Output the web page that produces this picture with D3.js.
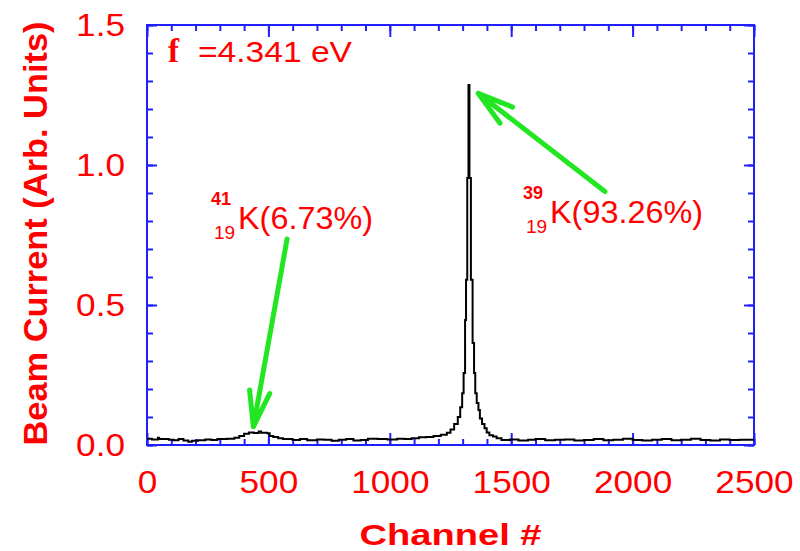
<!DOCTYPE html>
<html>
<head>
<meta charset="utf-8">
<script src="https://cdn.jsdelivr.net/npm/d3@7"></script>
<style>
  body { margin: 0; background: #fff; }
  text { font-family: "Liberation Sans", Arial, sans-serif; }
</style>
</head>
<body>
<script>
/* spectrum data (channel, beam current) */
const channels = [0, 20, 45, 50, 90, 110, 130, 150, 170, 185, 210, 240, 265, 290, 330, 360, 380, 400, 420, 440, 460, 470, 495, 505, 520, 540, 560, 600, 630, 660, 700, 730, 760, 790, 820, 850, 880, 910, 950, 990, 1030, 1060, 1090, 1120, 1150, 1180, 1210, 1235, 1250, 1265, 1280, 1290, 1298, 1304, 1310, 1314, 1319, 1324, 1328, 1334, 1341, 1347, 1352, 1358, 1365, 1371, 1380, 1390, 1399, 1410, 1425, 1440, 1460, 1495, 1530, 1570, 1600, 1640, 1680, 1720, 1760, 1800, 1840, 1880, 1920, 1960, 2000, 2040, 2080, 2120, 2160, 2200, 2240, 2280, 2320, 2360, 2400, 2440, 2480, 2500];
const current = [0.022, 0.020, 0.026, 0.021, 0.019, 0.017, 0.021, 0.016, 0.012, 0.015, 0.017, 0.020, 0.018, 0.021, 0.022, 0.026, 0.032, 0.040, 0.045, 0.043, 0.048, 0.044, 0.042, 0.032, 0.029, 0.024, 0.021, 0.018, 0.021, 0.017, 0.020, 0.019, 0.015, 0.019, 0.021, 0.016, 0.018, 0.022, 0.021, 0.020, 0.022, 0.021, 0.024, 0.028, 0.029, 0.032, 0.037, 0.044, 0.055, 0.075, 0.100, 0.135, 0.185, 0.257, 0.446, 0.590, 0.954, 1.286, 0.954, 0.590, 0.364, 0.257, 0.185, 0.150, 0.125, 0.095, 0.075, 0.060, 0.045, 0.035, 0.030, 0.024, 0.018, 0.020, 0.016, 0.019, 0.021, 0.017, 0.019, 0.020, 0.016, 0.018, 0.021, 0.017, 0.019, 0.022, 0.018, 0.016, 0.019, 0.021, 0.017, 0.019, 0.022, 0.018, 0.016, 0.020, 0.018, 0.019, 0.019];

/* tick values */
const xMajor = [0, 500, 1000, 1500, 2000, 2500];
const yMajor = [0.0, 0.5, 1.0, 1.5];

/* arrows: tail -> tip, in data units */
const arrows = [
  { from: [577, 0.736], to: [438, 0.065] },
  { from: [1886, 0.905], to: [1364, 1.256] }
];

const width = 800, height = 551;
const padding = { top: 25, bottom: 106, left: 147, right: 46 };
const red = '#ff0000', blue = '#2020ff', green = '#22e622';

const svg = d3.select('body').append('svg')
  .attr('width', width)
  .attr('height', height);

const xScale = d3.scaleLinear().domain([0, 2500]).range([padding.left, width - padding.right]);
const yScale = d3.scaleLinear().domain([0, 1.5]).range([height - padding.bottom, padding.top]);

const xMinor = d3.range(0, 2501, 100);
const yMinor = d3.range(0, 16).map(d => d / 10);

const x0 = padding.left, x1 = width - padding.right;
const y0 = height - padding.bottom, y1 = padding.top;

/* axes: minor and major ticks pointing inward on all four sides */
function addAxis(axis, transform, labels) {
  const g = svg.append('g').attr('transform', transform).call(axis);
  g.select('.domain').remove();
  g.selectAll('line').attr('stroke', blue).attr('stroke-width', 2);
  if (!labels) g.selectAll('text').remove();
  return g;
}
addAxis(d3.axisBottom(xScale).tickValues(xMinor).tickSize(-6), `translate(0,${y0})`, false);
addAxis(d3.axisTop(xScale).tickValues(xMinor).tickSize(-6), `translate(0,${y1})`, false);
addAxis(d3.axisLeft(yScale).tickValues(yMinor).tickSize(-6), `translate(${x0},0)`, false);
addAxis(d3.axisRight(yScale).tickValues(yMinor).tickSize(-6), `translate(${x1},0)`, false);
addAxis(d3.axisTop(xScale).tickValues(xMajor).tickSize(-12), `translate(0,${y1})`, false);
addAxis(d3.axisRight(yScale).tickValues(yMajor).tickSize(-10), `translate(${x1},0)`, false);

const xAxis = addAxis(d3.axisBottom(xScale).tickValues(xMajor).tickSize(-12).tickPadding(25)
  .tickFormat(d3.format('d')), `translate(0,${y0})`, true);
const yAxis = addAxis(d3.axisLeft(yScale).tickValues(yMajor).tickSize(-10).tickPadding(22)
  .tickFormat(d3.format('.1f')), `translate(${x0},0)`, true);

[xAxis, yAxis].forEach(g => {
  g.selectAll('text')
    .attr('fill', red)
    .attr('font-size', 32)
    .attr('font-family', '"Liberation Sans", Arial, sans-serif')
    .attr('lengthAdjust', 'spacingAndGlyphs')
    .attr('textLength', function () { return this.getComputedTextLength() * 1.1; });
});

/* frame */
svg.append('rect')
  .attr('x', x0).attr('y', y1)
  .attr('width', x1 - x0).attr('height', y0 - y1)
  .attr('fill', 'none').attr('stroke', blue).attr('stroke-width', 2);

/* spectrum */
const data = channels.map((c, i) => ({ ch: c, v: current[i] }));
const line = d3.line()
  .x(d => xScale(d.ch))
  .y(d => yScale(d.v))
  .curve(d3.curveStepAfter);
svg.append('path').datum(data)
  .attr('fill', 'none').attr('stroke', '#000').attr('stroke-width', 2)
  .attr('d', line);

/* arrows */
const headLen = 37, headAng = 16 * Math.PI / 180;
arrows.forEach(a => {
  const tx = xScale(a.to[0]), ty = yScale(a.to[1]);
  const fx = xScale(a.from[0]), fy = yScale(a.from[1]);
  const ang = Math.atan2(fy - ty, fx - tx);
  const b1 = [tx + headLen * Math.cos(ang - headAng), ty + headLen * Math.sin(ang - headAng)];
  const b2 = [tx + headLen * Math.cos(ang + headAng), ty + headLen * Math.sin(ang + headAng)];
  svg.append('path')
    .attr('d', `M${fx},${fy}L${tx},${ty}M${b1[0]},${b1[1]}L${tx},${ty}L${b2[0]},${b2[1]}`)
    .attr('fill', 'none').attr('stroke', green).attr('stroke-width', 5)
    .attr('stroke-linecap', 'round').attr('stroke-linejoin', 'round');
});

/* work function label */
svg.append('text').attr('x', 168).attr('y', 62)
  .attr('fill', red).attr('font-size', 33).attr('font-weight', 'bold')
  .style('font-family', '"Liberation Serif", "Times New Roman", serif')
  .text('f');
svg.append('text').attr('x', 198).attr('y', 62)
  .attr('fill', red).attr('font-size', 30)
  .attr('textLength', 154).attr('lengthAdjust', 'spacingAndGlyphs')
  .text('=4.341 eV');

/* isotope labels */
function isotope(x, base, mass, txt, len) {
  svg.append('text').attr('x', x).attr('y', base - 24)
    .attr('fill', red).attr('font-size', 18).attr('font-weight', 'bold').text(mass);
  svg.append('text').attr('x', x + 3).attr('y', base + 10)
    .attr('fill', red).attr('font-size', 19).text('19');
  svg.append('text').attr('x', x + 27).attr('y', base)
    .attr('fill', red).attr('font-size', 32)
    .attr('textLength', len).attr('lengthAdjust', 'spacingAndGlyphs')
    .text(txt);
}
isotope(211, 229, '41', 'K(6.73%)', 135);
isotope(523, 223, '39', 'K(93.26%)', 153);

/* axis titles */
svg.append('text')
  .attr('x', (x0 + x1) / 2).attr('y', 545)
  .attr('text-anchor', 'middle')
  .attr('fill', red).attr('font-size', 30).attr('font-weight', 'bold')
  .attr('textLength', 182).attr('lengthAdjust', 'spacingAndGlyphs')
  .text('Channel #');
svg.append('text')
  .attr('transform', 'rotate(-90)')
  .attr('x', -(y0 + 22) / 2).attr('y', 47)
  .attr('text-anchor', 'middle')
  .attr('fill', red).attr('font-size', 34).attr('font-weight', 'bold')
  .attr('textLength', 424).attr('lengthAdjust', 'spacingAndGlyphs')
  .text('Beam Current (Arb. Units)');
</script>
</body>
</html>
